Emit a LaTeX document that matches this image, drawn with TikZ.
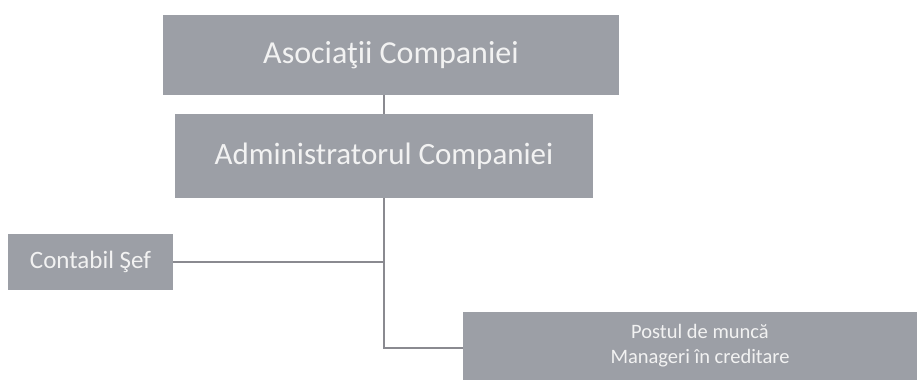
\documentclass[tikz,border=0pt]{standalone}
\usepackage{fontspec}
\setmainfont{Carlito}
\definecolor{boxgray}{HTML}{9C9FA6}
\definecolor{txtwhite}{HTML}{F2F2F2}
\definecolor{linegray}{HTML}{8A8A90}
\begin{document}
\begin{tikzpicture}[x=1pt,y=-1pt,
  orgbox/.style={fill=boxgray,text=txtwhite,inner sep=0pt,align=center},
  link/.style={draw=linegray,line width=1.3pt}]
\useasboundingbox[fill=white] (0,0) rectangle (917,391);
\node[orgbox,minimum width=456pt,minimum height=80pt,font=\fontsize{32}{38}\selectfont] (a1) at (391,55) {Asociaţii Companiei};
\node[orgbox,minimum width=418pt,minimum height=84pt,font=\fontsize{31}{37}\selectfont] (a2) at (384,156) {Administratorul Companiei};
\node[orgbox,minimum width=165pt,minimum height=56pt,font=\fontsize{25}{30}\selectfont] (cs) at (90.5,262) {Contabil Şef};
\node[orgbox,minimum width=474pt,minimum height=68pt,font=\fontsize{20.5}{25}\selectfont] (pm) at (700,346) {Postul de muncă\\Manageri în creditare};
\coordinate (j) at (384,348);
\draw[link] (a1.south -| a2.north) -- (a2.north);
\draw[link] (a2.south) -- (j) -- (j -| pm.west);
\draw[link] (cs.east) -- (cs.east -| j);
\end{tikzpicture}
\end{document}
